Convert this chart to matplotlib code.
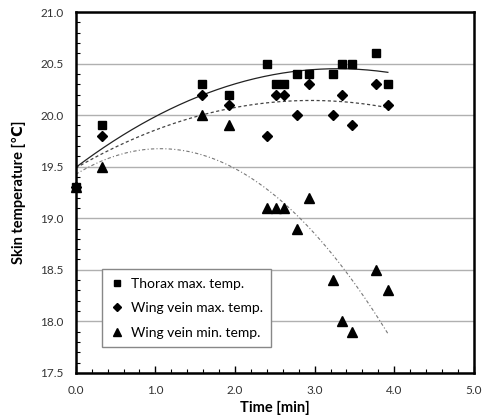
import numpy as np
import matplotlib
matplotlib.use("Agg")
import matplotlib.pyplot as plt
from matplotlib.ticker import MultipleLocator, FormatStrFormatter

plt.rcParams['font.family'] = ['Lato', 'DejaVu Sans']

time_min = [0.0, 0.33, 1.58, 1.92, 2.40, 2.52, 2.62, 2.78, 2.93, 3.23, 3.35, 3.47, 3.77, 3.92]
thorax_max = [19.3, 19.9, 20.3, 20.2, 20.5, 20.3, 20.3, 20.4, 20.4, 20.4, 20.5, 20.5, 20.6, 20.3]
wing_max = [19.3, 19.8, 20.2, 20.1, 19.8, 20.2, 20.2, 20.0, 20.3, 20.0, 20.2, 19.9, 20.3, 20.1]
wing_min = [19.3, 19.5, 20.0, 19.9, 19.1, 19.1, 19.1, 18.9, 19.2, 18.4, 18.0, 17.9, 18.5, 18.3]

labels = ["Thorax max. temp.", "Wing vein max. temp.", "Wing vein min. temp."]

fig = plt.figure(figsize=(4.89, 4.18), dpi=100)
ax = fig.add_axes([0.155, 0.108, 0.814, 0.863])

t = np.array(time_min)
tt = np.linspace(0, max(time_min), 200)
styles = [('-', 0.9, '#222222'), ((0, (2.5, 2)), 0.9, '#444444'), ((0, (3, 2, 1, 2)), 0.8, '#777777')]
markers = ['s', 'D', '^']
msizes = [5.5, 5.0, 6.5]
for ys, (ls, lw, c), m, ms, lab in zip([thorax_max, wing_max, wing_min], styles, markers, msizes, labels):
    coef = np.polyfit(t, ys, 2)
    ax.plot(tt, np.polyval(coef, tt), ls=ls, lw=lw, color=c, zorder=2)
    ax.plot(time_min, ys, ls='none', marker=m, ms=ms, color='black', label=lab, zorder=3, clip_on=False)

ax.set_xlim(0, 5)
ax.set_ylim(17.5, 21.0)
ax.xaxis.set_major_locator(MultipleLocator(1.0))
ax.xaxis.set_minor_locator(MultipleLocator(0.2))
ax.yaxis.set_major_locator(MultipleLocator(0.5))
ax.yaxis.set_minor_locator(MultipleLocator(0.1))
ax.xaxis.set_major_formatter(FormatStrFormatter('%.1f'))
ax.yaxis.set_major_formatter(FormatStrFormatter('%.1f'))
ax.tick_params(which='major', direction='in', length=5, width=1, labelsize=8.5, pad=9,
               colors='black', labelcolor='#333333')
ax.tick_params(which='minor', direction='in', length=3, width=0.8)
ax.tick_params(axis='y', which='major', length=0)
ax.grid(axis='y', which='major', color='#b0b0b0', lw=1.0, zorder=0)
ax.set_axisbelow(True)
for s in ax.spines.values():
    s.set_linewidth(1.8)
    s.set_color('black')

ax.set_xlabel('Time [min]', fontsize=10.5, fontweight='bold', labelpad=3)
ax.set_ylabel('Skin temperature [℃]', fontsize=10.5, fontweight='bold', labelpad=10)

leg = ax.legend(loc='lower left', bbox_to_anchor=(0.065, 0.072), borderaxespad=0, fontsize=10,
                frameon=True, fancybox=False, edgecolor='#888888', framealpha=1, handlelength=1.0,
                handletextpad=0.5, borderpad=0.6, labelspacing=0.9, markerscale=0.8)
leg.get_frame().set_linewidth(1.0)

fig.savefig('out.png', dpi=100)
